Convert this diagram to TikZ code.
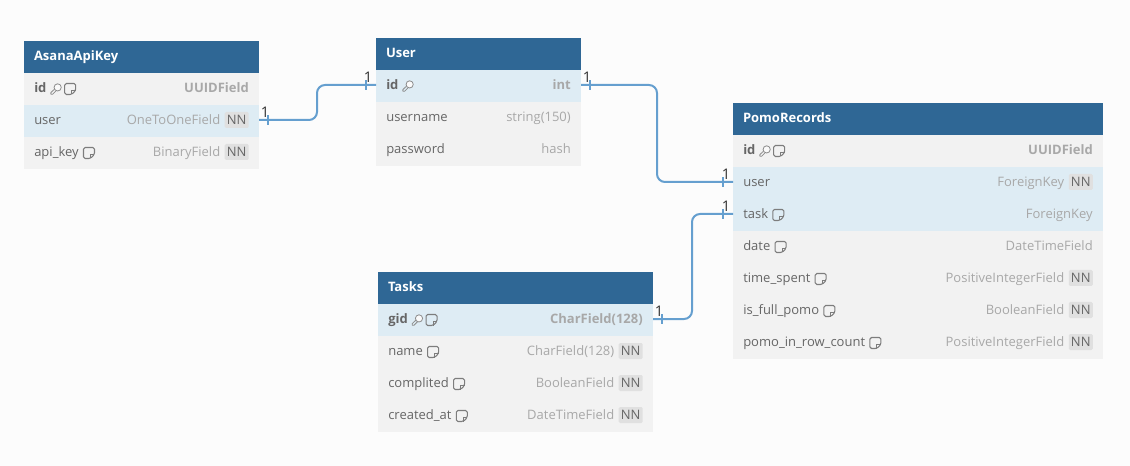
\documentclass[tikz,border=0pt]{standalone}
\usepackage{fontspec}
\setmainfont{Open Sans}
\usetikzlibrary{positioning}
\definecolor{headblue}{HTML}{2F6795}
\definecolor{rowgray}{HTML}{F2F2F2}
\definecolor{rowblue}{HTML}{DEECF4}
\definecolor{relblue}{HTML}{659FCF}
\definecolor{namegray}{HTML}{666666}
\definecolor{typegray}{HTML}{A8A8A8}
\definecolor{nngray}{HTML}{E0E0E0}
\tikzset{
	x=.75pt,y=-.75pt,
	headbox/.style={fill=headblue,text=white,font=\fontsize{9.75pt}{12pt}\selectfont\bfseries,anchor=north west,inner xsep=7.5pt,inner ysep=0pt,outer sep=0pt,minimum height=24pt,align=left,text height=7.5pt,text depth=1.6pt},
	rowbox/.style={fill=rowgray,inner sep=0pt,outer sep=0pt,minimum height=24pt},
	keyrow/.style={fill=rowblue},
	fieldname/.style={anchor=west,text=namegray,inner sep=0pt,text height=7.5pt,text depth=2.2pt,font=\fontsize{9.75pt}{12pt}\selectfont},
	fieldtype/.style={anchor=east,text=typegray,inner sep=0pt,text height=7.5pt,text depth=2.2pt,font=\fontsize{9.75pt}{12pt}\selectfont},
	nnbadge/.style={fill=nngray,text=namegray,rounded corners=1pt,anchor=east,inner sep=0pt,minimum width=18pt,minimum height=12pt,font=\fontsize{9.75pt}{12pt}\selectfont},
	relation/.style={draw=relblue,line width=1.5pt,rounded corners=6pt},
	cardtick/.style={fill=relblue,inner sep=0pt,minimum width=1.1pt,minimum height=7.5pt},
	cardlabel/.style={text=black!80,inner sep=0pt,font=\fontsize{11pt}{12pt}\selectfont},
	keyicon/.pic={
		\draw[namegray!75,line width=.6pt,line join=round] (-1.2,-.2) -- (-5.2,3.6) -- (-5.2,5.2) -- (-3.4,5.2) -- (.4,1.4);
		\draw[namegray!75,line width=.6pt,fill=white!60!rowgray] (1.6,-1.6) circle (3.6);
	},
	noteicon/.pic={
		\draw[namegray!85,line width=.8pt,line join=round,rounded corners=1.2pt] (1.5,5.5) -- (-5.5,5.5) -- (-5.5,-5.5) -- (5.5,-5.5) -- (5.5,1.5) -- cycle;
		\draw[namegray!85,line width=.8pt,line join=round] (1.5,5.5) -- (1.5,1.5) -- (5.5,1.5);
	},
}
% #1 right inset, #2 row above, #3 row name, #4 row style, #5 field, #6 type
\newcommand{\fieldrow}[6][10]{
	\node[rowbox,#4,below=0pt of #2,minimum width=\tablew*.75pt] (#3) {};
	\node[fieldname] (#3-name) at ([xshift=7.5pt]#3.west) {#5};
	\node[fieldtype] (#3-type) at ([xshift=-#1*.75pt]#3.east) {#6};
}
\newcommand{\nnfield}[5]{
	\fieldrow[38.5]{#1}{#2}{#3}{#4}{#5}
	\node[nnbadge] (#2-nn) at ([xshift=-7.5pt,yshift=.75pt]#2.east) {NN};
}
\newcommand{\tablehead}[5]{
	\def\tablew{#4}
	\node[headbox,minimum width=#4*.75pt,text width=(#4-20)*.75pt] (#1) at (#2,#3) {#5};
}
\begin{document}
\begin{tikzpicture}
	\fill[white!98.8!black] (0,0) rectangle (1130,466);
	\useasboundingbox (0,0) rectangle (1130,466);
%-----AsanaApiKey-----
	\tablehead{asana}{24}{41}{235}{AsanaApiKey}
	\fieldrow{asana}{asana-id}{}{\textbf{id}}{\textbf{UUIDField}}
	\nnfield{asana-id}{asana-user}{keyrow}{user}{OneToOneField}
	\nnfield{asana-user}{asana-key}{}{api\_key}{BinaryField}
	\pic at ([xshift=7pt]asana-id-name.east) {keyicon};
	\pic at ([xshift=17.6pt]asana-id-name.east) {noteicon};
	\pic at ([xshift=7.5pt]asana-key-name.east) {noteicon};
%-----User-----
	\tablehead{user}{376}{38}{205}{User}
	\fieldrow{user}{user-id}{keyrow}{\textbf{id}}{\textbf{int}}
	\fieldrow{user-id}{user-name}{}{username}{string(150)}
	\fieldrow{user-name}{user-pass}{}{password}{hash}
	\pic at ([xshift=7pt]user-id-name.east) {keyicon};
%-----PomoRecords-----
	\tablehead{pomo}{733}{103}{370}{PomoRecords}
	\fieldrow{pomo}{pomo-id}{}{\textbf{id}}{\textbf{UUIDField}}
	\nnfield{pomo-id}{pomo-user}{keyrow}{user}{ForeignKey}
	\fieldrow{pomo-user}{pomo-task}{keyrow}{task}{ForeignKey}
	\fieldrow{pomo-task}{pomo-date}{}{date}{DateTimeField}
	\nnfield{pomo-date}{pomo-time}{}{time\_spent}{PositiveIntegerField}
	\nnfield{pomo-time}{pomo-full}{}{is\_full\_pomo}{BooleanField}
	\nnfield{pomo-full}{pomo-count}{}{pomo\_in\_row\_count}{PositiveIntegerField}
	\pic at ([xshift=7pt]pomo-id-name.east) {keyicon};
	\pic at ([xshift=17.6pt]pomo-id-name.east) {noteicon};
	\foreach \i in {task,date,time,full,count}
		{
			\pic at ([xshift=7.5pt]pomo-\i-name.east) {noteicon};
		}
%-----Tasks-----
	\tablehead{tasks}{378}{272}{275}{Tasks}
	\fieldrow{tasks}{tasks-gid}{keyrow}{\textbf{gid}}{\textbf{CharField(128)}}
	\nnfield{tasks-gid}{tasks-name}{}{name}{CharField(128)}
	\nnfield{tasks-name}{tasks-done}{}{complited}{BooleanField}
	\nnfield{tasks-done}{tasks-created}{}{created\_at}{DateTimeField}
	\pic at ([xshift=7pt]tasks-gid-name.east) {keyicon};
	\pic at ([xshift=17.6pt]tasks-gid-name.east) {noteicon};
	\foreach \i in {name,done,created}
		{
			\pic at ([xshift=7.5pt]tasks-\i-name.east) {noteicon};
		}
%-----Draw the relations here-----
	\draw[relation] ([yshift=.75pt]asana-user.east) -- ++(58,0) |- ([yshift=.75pt]user-id.west);
	\draw[relation] ([yshift=.75pt]user-id.east) -- ++(76,0) |- ([yshift=.75pt]pomo-user.west);
	\draw[relation] ([yshift=.75pt]tasks-gid.east) -- ++(39,0) |- ([yshift=.75pt]pomo-task.west);
	\foreach \rowend/\tickx/\labelx [count=\j] in {asana-user.east/9/6,user-id.west/-10/-8,user-id.east/9/6,pomo-user.west/-10/-7,pomo-task.west/-10/-7,tasks-gid.east/9/6}
		{
			\node[cardtick] (tick\j) at ([xshift=\tickx*.75pt,yshift=.75pt]\rowend) {};
			\node[cardlabel] (card\j) at ([xshift=\labelx*.75pt,yshift=6.5pt]\rowend) {1};
		}
\end{tikzpicture}
\end{document}
